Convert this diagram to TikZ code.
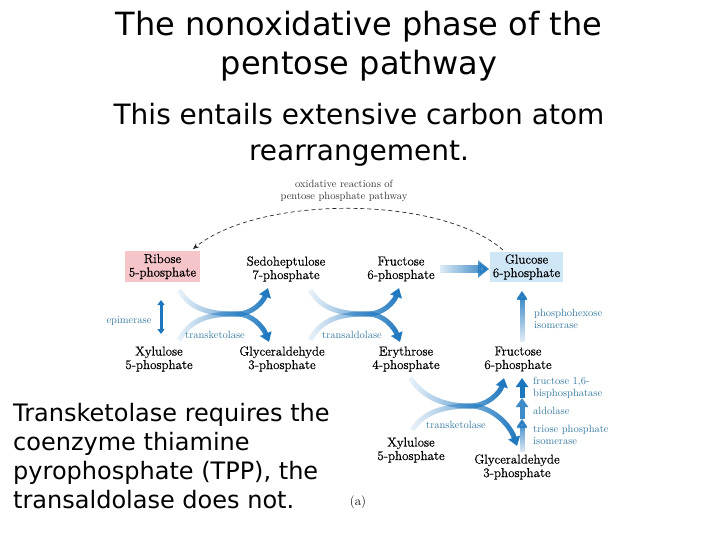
\documentclass[tikz,border=0pt]{standalone}
\usepackage{fontspec}
\newfontfamily\vsans{DejaVu Sans}
\newfontfamily\heavyserif[FakeBold=0.6]{Latin Modern Roman}
\usetikzlibrary{arrows.meta,fadings}
\definecolor{pinkbox}{RGB}{245,197,202}
\definecolor{bluebox}{RGB}{207,230,247}
\definecolor{flowblue}{RGB}{28,118,190}
\definecolor{enzblue}{RGB}{52,120,160}
\tikzfading[name=fadeleft, left color=transparent!92, right color=transparent!0]
\tikzfading[name=fadebottom, bottom color=transparent!92, top color=transparent!0]
\begin{document}
\begin{tikzpicture}[x=1pt,y=-1pt,
  metab/.style={font=\heavyserif\fontsize{13}{13.5}\selectfont, align=center, inner sep=0pt},
  enz/.style={font=\fontsize{10.5}{12.5}\selectfont, text=enzblue, inner sep=0pt},
  enzl/.style={enz, anchor=west, align=left},
  flow/.style={draw=flowblue, line width=5pt, -{Triangle[length=9pt,width=12pt]}, path fading=fadeleft},
  upflow/.style={draw=flowblue, line width=5pt, -{Triangle[length=9pt,width=12pt]}},
  oxarrow/.style={draw=black!85, line width=0.7pt, dash pattern=on 4pt off 3pt, -{Stealth[length=6pt,width=5pt]}},
  big/.style={font=\vsans\fontsize{32}{39}\selectfont, align=center, inner sep=0pt},
  mid/.style={font=\vsans\fontsize{28}{36}\selectfont, align=center, inner sep=0pt},
  note/.style={font=\vsans\fontsize{24}{29}\selectfont, align=left, inner sep=0pt, anchor=west}]
\useasboundingbox (0,0) rectangle (720,540);

% titles
\node[big] (title) at (359,46.5) {The nonoxidative phase of the\\pentose pathway};
\node[mid] (sub) at (359,135) {This entails extensive carbon atom\\rearrangement.};
\node[note] (note) at (13,456.5) {Transketolase requires the\\coenzyme thiamine\\pyrophosphate (TPP), the\\transaldolase does not.};

% metabolites
\node[metab, fill=pinkbox, minimum width=75pt, minimum height=31pt] (r5p) at (162.5,266.5) {Ribose\\5-phosphate};
\node[metab] (s7p) at (286,269) {Sedoheptulose\\7-phosphate};
\node[metab] (f6p) at (401,269) {Fructose\\6-phosphate};
\node[metab, fill=bluebox, minimum width=73pt, minimum height=30pt] (g6p) at (526.5,267) {Glucose\\6-phosphate};
\node[metab] (x5p) at (159,359) {Xylulose\\5-phosphate};
\node[metab] (gap) at (282,359) {Glyceraldehyde\\3-phosphate};
\node[metab] (e4p) at (406,359) {Erythrose\\4-phosphate};
\node[metab] (f6pb) at (518,359) {Fructose\\6-phosphate};
\node[metab] (x5pb) at (411,450) {Xylulose\\5-phosphate};
\node[metab] (gapb) at (517,467) {Glyceraldehyde\\3-phosphate};
\node[font=\fontsize{13}{14}\selectfont, inner sep=0pt] (fig) at (358,502) {(a)};

% enzyme labels
\node[enz, align=center, text=black!80] (oxlab) at (344,191) {oxidative reactions of\\pentose phosphate pathway};
\node[enz] (epi) at (129,321) {epimerase};
\node[enz] (tk1) at (215,335) {transketolase};
\node[enz] (ta) at (352,335) {transaldolase};
\node[enzl] (phi) at (534,319) {phosphohexose\\isomerase};
\node[enz] (tk2) at (456,425) {transketolase};
\node[enzl] (fbp) at (533,388) {fructose 1,6-\\bisphosphatase};
\node[enzl] (ald) at (533,411) {aldolase};
\node[enzl] (tpi) at (533,435) {triose phosphate\\isomerase};

% coordinates
\coordinate (oxs) at (503,250);
\coordinate (oxe) at (193,249);
\coordinate (a1s) at (179,290); \coordinate (a1e) at (268,288);
\coordinate (b1s) at (179,340); \coordinate (b1e) at (269,342);
\coordinate (j1) at (237,314);
\coordinate (a2s) at (310,290); \coordinate (a2e) at (399,288);
\coordinate (b2s) at (310,340); \coordinate (b2e) at (400,342);
\coordinate (j2) at (368,314);
\coordinate (a3s) at (410,378); \coordinate (a3e) at (504,378);
\coordinate (b3s) at (412,430); \coordinate (b3e) at (517,446);
\coordinate (j3) at (470,406);
\coordinate (fg1) at (440,269); \coordinate (fg2) at (489,269);
\coordinate (ep1) at (161,300); \coordinate (ep2) at (161,334);
\coordinate (ph1) at (522,342); \coordinate (ph2) at (522,291);
\coordinate (st0) at (522,452); \coordinate (st1) at (522,419);
\coordinate (st2) at (522,398); \coordinate (st3) at (522,378);

% oxidative dashed loop
\draw[oxarrow] (oxs) .. controls (440,195) and (260,195) .. (oxe);

% crossing 1 (transketolase)
\draw[flow] (a1s) .. controls (192,312) and (215,314) .. (j1) .. controls (252,314) and (263,302) .. (a1e);
\draw[flow] (b1s) .. controls (192,316) and (215,314) .. (j1) .. controls (252,314) and (263,327) .. (b1e);
% crossing 2 (transaldolase)
\draw[flow] (a2s) .. controls (323,312) and (346,314) .. (j2) .. controls (383,314) and (394,302) .. (a2e);
\draw[flow] (b2s) .. controls (323,316) and (346,314) .. (j2) .. controls (383,314) and (394,327) .. (b2e);
% crossing 3 (transketolase)
\draw[flow] (a3s) .. controls (425,400) and (448,406) .. (j3) .. controls (487,406) and (500,393) .. (a3e);
\draw[flow] (b3s) .. controls (425,410) and (448,406) .. (j3) .. controls (492,406) and (510,425) .. (b3e);

% fructose -> glucose
\draw[draw=flowblue, line width=8pt, -{Triangle[length=11pt,width=17pt]}, path fading=fadeleft] (fg1) -- (fg2);
% epimerase
\draw[draw=flowblue, line width=3pt, {Triangle[length=5pt,width=7pt]}-{Triangle[length=5pt,width=7pt]}] (ep1) -- (ep2);
% phosphohexose isomerase
\draw[upflow, path fading=fadebottom] (ph1) -- (ph2);
% gluconeogenic stack
\draw[upflow, path fading=fadebottom] (st0) -- (st1);
\draw[upflow, draw=flowblue!85] (st1) -- (st2);
\draw[upflow] (st2) -- (st3);
\end{tikzpicture}
\end{document}
